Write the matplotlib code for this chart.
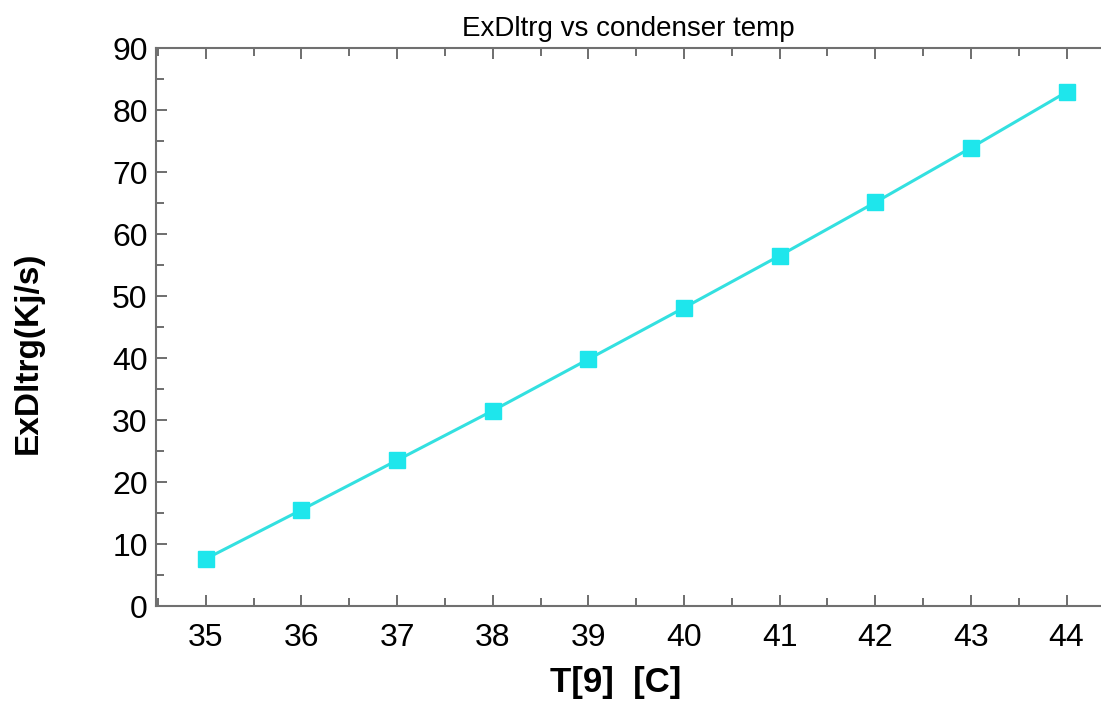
import matplotlib
matplotlib.use('Agg')
import matplotlib.pyplot as plt
from matplotlib.ticker import MultipleLocator

plt.rcParams['font.family'] = ['Liberation Sans', 'DejaVu Sans']

temps = [35, 36, 37, 38, 39, 40, 41, 42, 43, 44]
exdltrg = [7.6, 15.5, 23.5, 31.5, 39.8, 48.1, 56.5, 65.1, 73.9, 82.9]

fig = plt.figure(figsize=(11.01, 7.06), dpi=100)
ax = fig.add_axes([156 / 1101, 1 - 606 / 706, 1 - 156 / 1101, (606 - 48) / 706])

ax.plot(temps, exdltrg, color='#33e0e0', linewidth=2.2, marker='s',
        markersize=11, markerfacecolor='#1ee6ec', markeredgecolor='#1ee6ec')

ax.set_xlim(34.48, 44.36)
ax.set_ylim(0, 90)
ax.xaxis.set_major_locator(MultipleLocator(1))
ax.xaxis.set_minor_locator(MultipleLocator(0.5))
ax.yaxis.set_major_locator(MultipleLocator(10))
ax.yaxis.set_minor_locator(MultipleLocator(5))

for s in ['left', 'bottom', 'top']:
    ax.spines[s].set_color('#707070')
    ax.spines[s].set_linewidth(1.5)
ax.spines['right'].set_visible(False)

ax.tick_params(which='both', direction='in', top=True, right=False,
               color='#555555', width=1.2, labelsize=23, labelcolor='black')
ax.tick_params(which='major', length=8, pad=12)
ax.tick_params(which='minor', length=6)
ax.tick_params(axis='y', which='major', pad=6)

ax.set_xlabel('T[9]  [C]', fontsize=25, fontweight='bold')
ax.xaxis.set_label_coords(0.486, -0.108)
ax.set_ylabel('ExDltrg(Kj/s)', fontsize=24, fontweight='bold')
ax.yaxis.set_label_coords(-0.119, 0.453)
ax.set_title('ExDltrg vs condenser temp', fontsize=20, pad=9)

fig.savefig('out.png', dpi=100)
